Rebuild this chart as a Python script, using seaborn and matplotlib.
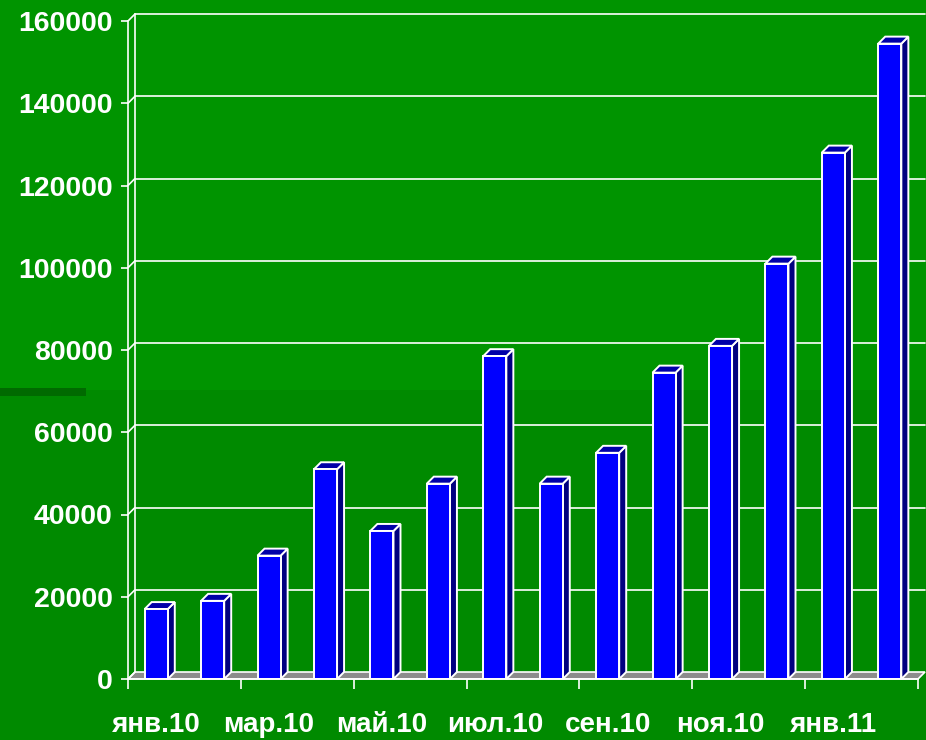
import numpy as np
import pandas as pd
import matplotlib
matplotlib.use('Agg')
import matplotlib.pyplot as plt
from matplotlib.patches import Polygon, Rectangle
import seaborn as sns

months = ['янв.10', 'фев.10', 'мар.10', 'апр.10', 'май.10', 'июн.10', 'июл.10',
          'авг.10', 'сен.10', 'окт.10', 'ноя.10', 'дек.10', 'янв.11', 'фев.11']
values = [17000, 19000, 30000, 51000, 36000, 47500, 78500,
          47500, 55000, 74500, 81000, 101000, 128000, 154500]
y_ticks = [0, 20000, 40000, 60000, 80000, 100000, 120000, 140000, 160000]

df = pd.DataFrame({'month': months, 'value': values})

sns.set_theme(style='white')
plt.rcParams['font.family'] = ['Liberation Sans', 'DejaVu Sans']
plt.rcParams['font.weight'] = 'bold'

W, H = 926, 740
fig = plt.figure(figsize=(W / 100, H / 100), dpi=100)
fig.patch.set_facecolor('#008A00')
# slide background: lighter upper half and a dark stripe on the left
fig.patches.append(Rectangle((0, 1 - 390 / H), 1, 390 / H, transform=fig.transFigure,
                             facecolor='#009400', edgecolor='none', zorder=-10))
fig.patches.append(Rectangle((0, 1 - 396 / H), 86 / W, 8 / H, transform=fig.transFigure,
                             facecolor='#006A00', edgecolor='none', zorder=-9))

ax = fig.add_axes([128 / W, 61 / H, 790 / W, 658 / H])
ax.patch.set_alpha(0)

sns.barplot(data=df, x='month', y='value', color='#0000FF', width=0.41, saturation=1,
            edgecolor='white', linewidth=1.4, ax=ax, zorder=3)

n = len(months)
ax.set_xlim(-0.5, n - 0.5)
ax.set_ylim(0, y_ticks[-1])

# depth of the 3D effect, 7 px, in data units
depth = 7
dx = depth * (n / 790)
dy = depth * (y_ticks[-1] / 658)

# floor
floor = Polygon([(-0.5, 0), (n - 0.5, 0), (n - 0.5 + dx, dy), (-0.5 + dx, dy)],
                closed=True, facecolor='#8C8C8C', edgecolor='white', lw=1.2,
                zorder=1, clip_on=False)
ax.add_patch(floor)

# back wall grid
for v in y_ticks[1:]:
    ax.plot([-0.5 + dx, n - 0.5 + dx], [v + dy, v + dy], color='white', lw=1.2,
            zorder=1.5, clip_on=False)
for v in y_ticks:
    ax.plot([-0.5, -0.5 + dx], [v, v + dy], color='white', lw=1.2, zorder=1.5, clip_on=False)
ax.plot([-0.5 + dx, -0.5 + dx], [dy, y_ticks[-1] + dy], color='white', lw=1.2,
        zorder=1.5, clip_on=False)

# side and top faces of bars
for p in list(ax.patches):
    if p is floor:
        continue
    x0, w, h = p.get_x(), p.get_width(), p.get_height()
    side = Polygon([(x0 + w, 0), (x0 + w, h), (x0 + w + dx, h + dy), (x0 + w + dx, dy)],
                   closed=True, facecolor='#000080', edgecolor='white', lw=1.4,
                   zorder=2.9, clip_on=False)
    top = Polygon([(x0, h), (x0 + w, h), (x0 + w + dx, h + dy), (x0 + dx, h + dy)],
                  closed=True, facecolor='#0000A8', edgecolor='white', lw=1.4,
                  zorder=2.9, clip_on=False)
    ax.add_patch(side)
    ax.add_patch(top)

for s in ['top', 'right']:
    ax.spines[s].set_visible(False)
for s in ['left', 'bottom']:
    ax.spines[s].set_color('white')
    ax.spines[s].set_linewidth(1.2)
    ax.spines[s].set_zorder(3.5)

ax.set_yticks(y_ticks)
ax.set_yticklabels([str(v) for v in y_ticks])
ax.tick_params(axis='y', length=5, width=1.2, color='white', labelcolor='white',
               labelsize=20.5, pad=6, left=True)

ax.set_xticks(np.arange(-0.5, n, 2))
ax.set_xticklabels([''] * len(np.arange(-0.5, n, 2)))
ax.set_xticks(np.arange(0, n, 2), minor=True)
ax.set_xticklabels(months[::2], minor=True)
ax.tick_params(axis='x', which='major', length=7, width=1.2, color='white', bottom=True)
ax.tick_params(axis='x', which='minor', length=0, pad=24, labelsize=20, labelcolor='white')

ax.set_xlabel('')
ax.set_ylabel('')

fig.savefig('out.png', dpi=100, facecolor=fig.get_facecolor())
